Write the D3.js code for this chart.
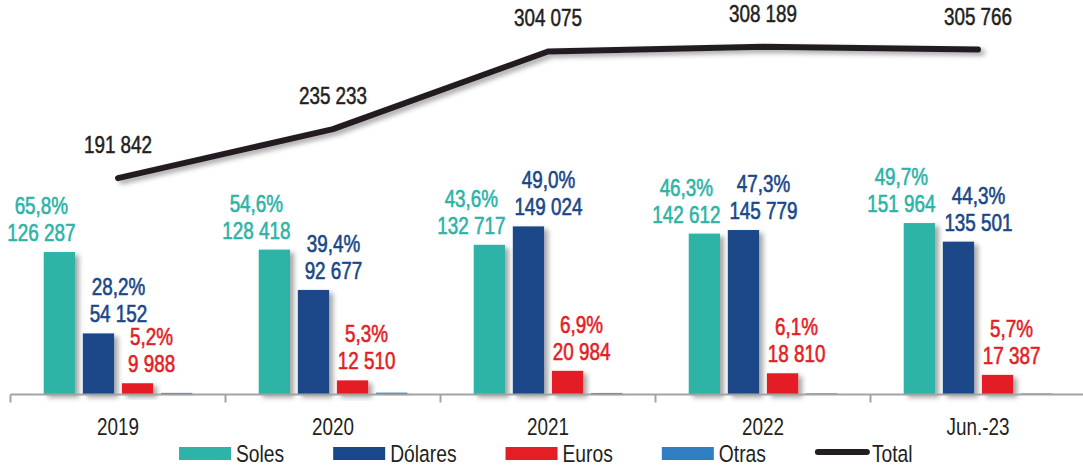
<!DOCTYPE html>
<html>
<head>
<meta charset="utf-8">
<script src="https://cdn.jsdelivr.net/npm/d3@7/dist/d3.min.js"></script>
<style>
  body { margin: 0; background: #fff; }
  svg { display: block; font-family: "Liberation Sans", Arial, sans-serif; }
</style>
</head>
<body>
<div id="viz"></div>
<script>
// values
var categories = ["2019", "2020", "2021", "2022", "Jun.-23"];
var soles   = [126287, 128418, 132717, 142612, 151964];
var dolares = [54152, 92677, 149024, 145779, 135501];
var euros   = [9988, 12510, 20984, 18810, 17387];
var otras   = [1415, 1628, 1350, 988, 914];
var total   = [191842, 235233, 304075, 308189, 305766];
var solesPct   = ["65,8%", "54,6%", "43,6%", "46,3%", "49,7%"];
var dolaresPct = ["28,2%", "39,4%", "49,0%", "47,3%", "44,3%"];
var eurosPct   = ["5,2%", "5,3%", "6,9%", "6,1%", "5,7%"];

var seriesNames = ["Soles", "Dólares", "Euros", "Otras"];

var W = 1083, H = 466,
    baseY = 394.5,
    narrow = "scale(0.82,1)",   // fake a condensed face
    text_color = "#231f20",
    axis_color = "#a3a3a3";

var colors = { "Soles": "#2db3a7", "Dólares": "#1a4789", "Euros": "#e31e25", "Otras": "#2e7ec1" };
var labelDx = { "Soles": -18, "Dólares": 20, "Euros": 14 };

var series = [
  { name: "Soles", values: soles, pct: solesPct },
  { name: "Dólares", values: dolares, pct: dolaresPct },
  { name: "Euros", values: euros, pct: eurosPct },
  { name: "Otras", values: otras, pct: null }
];

var fmt = d3.formatLocale({ decimal: ",", thousands: " ", grouping: [3], currency: ["", ""] }).format(",d");

var svg = d3.select("#viz").append("svg")
    .attr("width", W)
    .attr("height", H);

var defs = svg.append("defs");
var shadow = defs.append("filter").attr("id", "shadow")
    .attr("x", "-20%").attr("y", "-20%").attr("width", "160%").attr("height", "160%");
shadow.append("feDropShadow")
    .attr("dx", 4).attr("dy", 3).attr("stdDeviation", 2.5)
    .attr("flood-color", "#000").attr("flood-opacity", 0.35);

/* scales */
var x0 = d3.scaleBand().domain(categories).range([10.5, 1085.5]).padding(0);
var x1 = d3.scaleBand().domain(seriesNames).range([0, x0.bandwidth()])
    .paddingInner(0.2).paddingOuter(0.85);
var y = d3.scaleLinear().domain([0, 349700]).range([baseY, 0]);

/* bars */
var groups = svg.selectAll(".grp").data(categories).enter()
    .append("g")
    .attr("class", "grp")
    .attr("transform", function(d) { return "translate(" + x0(d) + ",0)"; });

groups.selectAll("rect")
    .data(function(c, i) { return series.map(function(s) { return { name: s.name, v: s.values[i] }; }); })
    .enter().append("rect")
    .attr("x", function(d) { return x1(d.name); })
    .attr("y", function(d) { return y(d.v); })
    .attr("width", x1.bandwidth())
    .attr("height", function(d) { return baseY - y(d.v); })
    .attr("fill", function(d) { return colors[d.name]; })
    .attr("filter", "url(#shadow)");

/* axis */
svg.append("line")
    .attr("x1", 10.5).attr("x2", W)
    .attr("y1", baseY).attr("y2", baseY)
    .attr("stroke", axis_color).attr("stroke-width", 2);

var bounds = categories.map(function(c) { return x0(c); }).concat([x0.range()[1]]);
svg.selectAll(".tk").data(bounds).enter()
    .append("line")
    .attr("class", "tk")
    .attr("x1", function(d) { return d; }).attr("x2", function(d) { return d; })
    .attr("y1", baseY).attr("y2", baseY + 8)
    .attr("stroke", axis_color).attr("stroke-width", 2);

var xAxis = d3.axisBottom(x0).tickSize(0).tickPadding(0);
var gx = svg.append("g")
    .attr("transform", "translate(0," + (baseY + 40) + ")")
    .call(xAxis);
gx.select(".domain").remove();
gx.selectAll("text")
    .attr("dy", 0)
    .attr("y", 0)
    .attr("transform", narrow)
    .style("font-family", "Liberation Sans, Arial, sans-serif")
    .style("font-size", "23px")
    .attr("fill", text_color);

/* bar labels */
series.forEach(function(s) {
  if (!s.pct) return;
  categories.forEach(function(c, i) {
    var cx = x0(c) + x1(s.name) + x1.bandwidth() / 2 + labelDx[s.name];
    var top = y(s.values[i]) - 11;
    var t = svg.append("g")
        .attr("transform", "translate(" + cx + "," + top + ") " + narrow)
      .append("text")
        .attr("text-anchor", "middle")
        .attr("fill", colors[s.name])
        .attr("stroke", colors[s.name])
        .attr("stroke-width", 0.6)
        .style("font-size", "23px");
    t.append("tspan").attr("x", 0).attr("y", -27).text(s.pct[i]);
    t.append("tspan").attr("x", 0).attr("y", 0).text(fmt(s.values[i]));
  });
});

/* total line */
var lx = function(c) { return x0(c) + x0.bandwidth() / 2; };
var line = d3.line()
    .x(function(d, i) { return lx(categories[i]); })
    .y(function(d) { return y(d); });

svg.append("path")
    .datum(total)
    .attr("d", line)
    .attr("fill", "none")
    .attr("stroke", text_color)
    .attr("stroke-width", 6)
    .attr("stroke-linecap", "round")
    .attr("stroke-linejoin", "round")
    .attr("filter", "url(#shadow)");

svg.selectAll(".tot").data(total).enter()
    .append("g")
    .attr("class", "tot")
    .attr("transform", function(d, i) {
      return "translate(" + lx(categories[i]) + "," + (y(d) - 25) + ") " + narrow;
    })
  .append("text")
    .attr("text-anchor", "middle")
    .attr("fill", text_color)
    .attr("stroke", text_color)
    .attr("stroke-width", 0.5)
    .style("font-size", "23px")
    .text(function(d) { return fmt(d); });

/* legend */
var legendItems = seriesNames.concat(["Total"]);
var lg = svg.append("g").attr("transform", "translate(179,454)");
var pos = 0;
legendItems.forEach(function(name) {
  var g = lg.append("g").attr("transform", "translate(" + pos + ",0)");
  if (name === "Total") {
    g.append("line")
        .attr("x1", 3).attr("x2", 52)
        .attr("y1", -2).attr("y2", -2)
        .attr("stroke", text_color)
        .attr("stroke-width", 6)
        .attr("stroke-linecap", "round");
  } else {
    g.append("rect")
        .attr("x", 0).attr("y", -7)
        .attr("width", 52).attr("height", 13)
        .attr("fill", colors[name]);
  }
  var t = g.append("g")
      .attr("transform", "translate(57,8) " + narrow)
    .append("text")
      .attr("fill", text_color)
      .style("font-size", "23.5px")
      .text(name);
  pos += 57 + t.node().getComputedTextLength() * 0.82 + 49;
});
</script>
</body>
</html>
